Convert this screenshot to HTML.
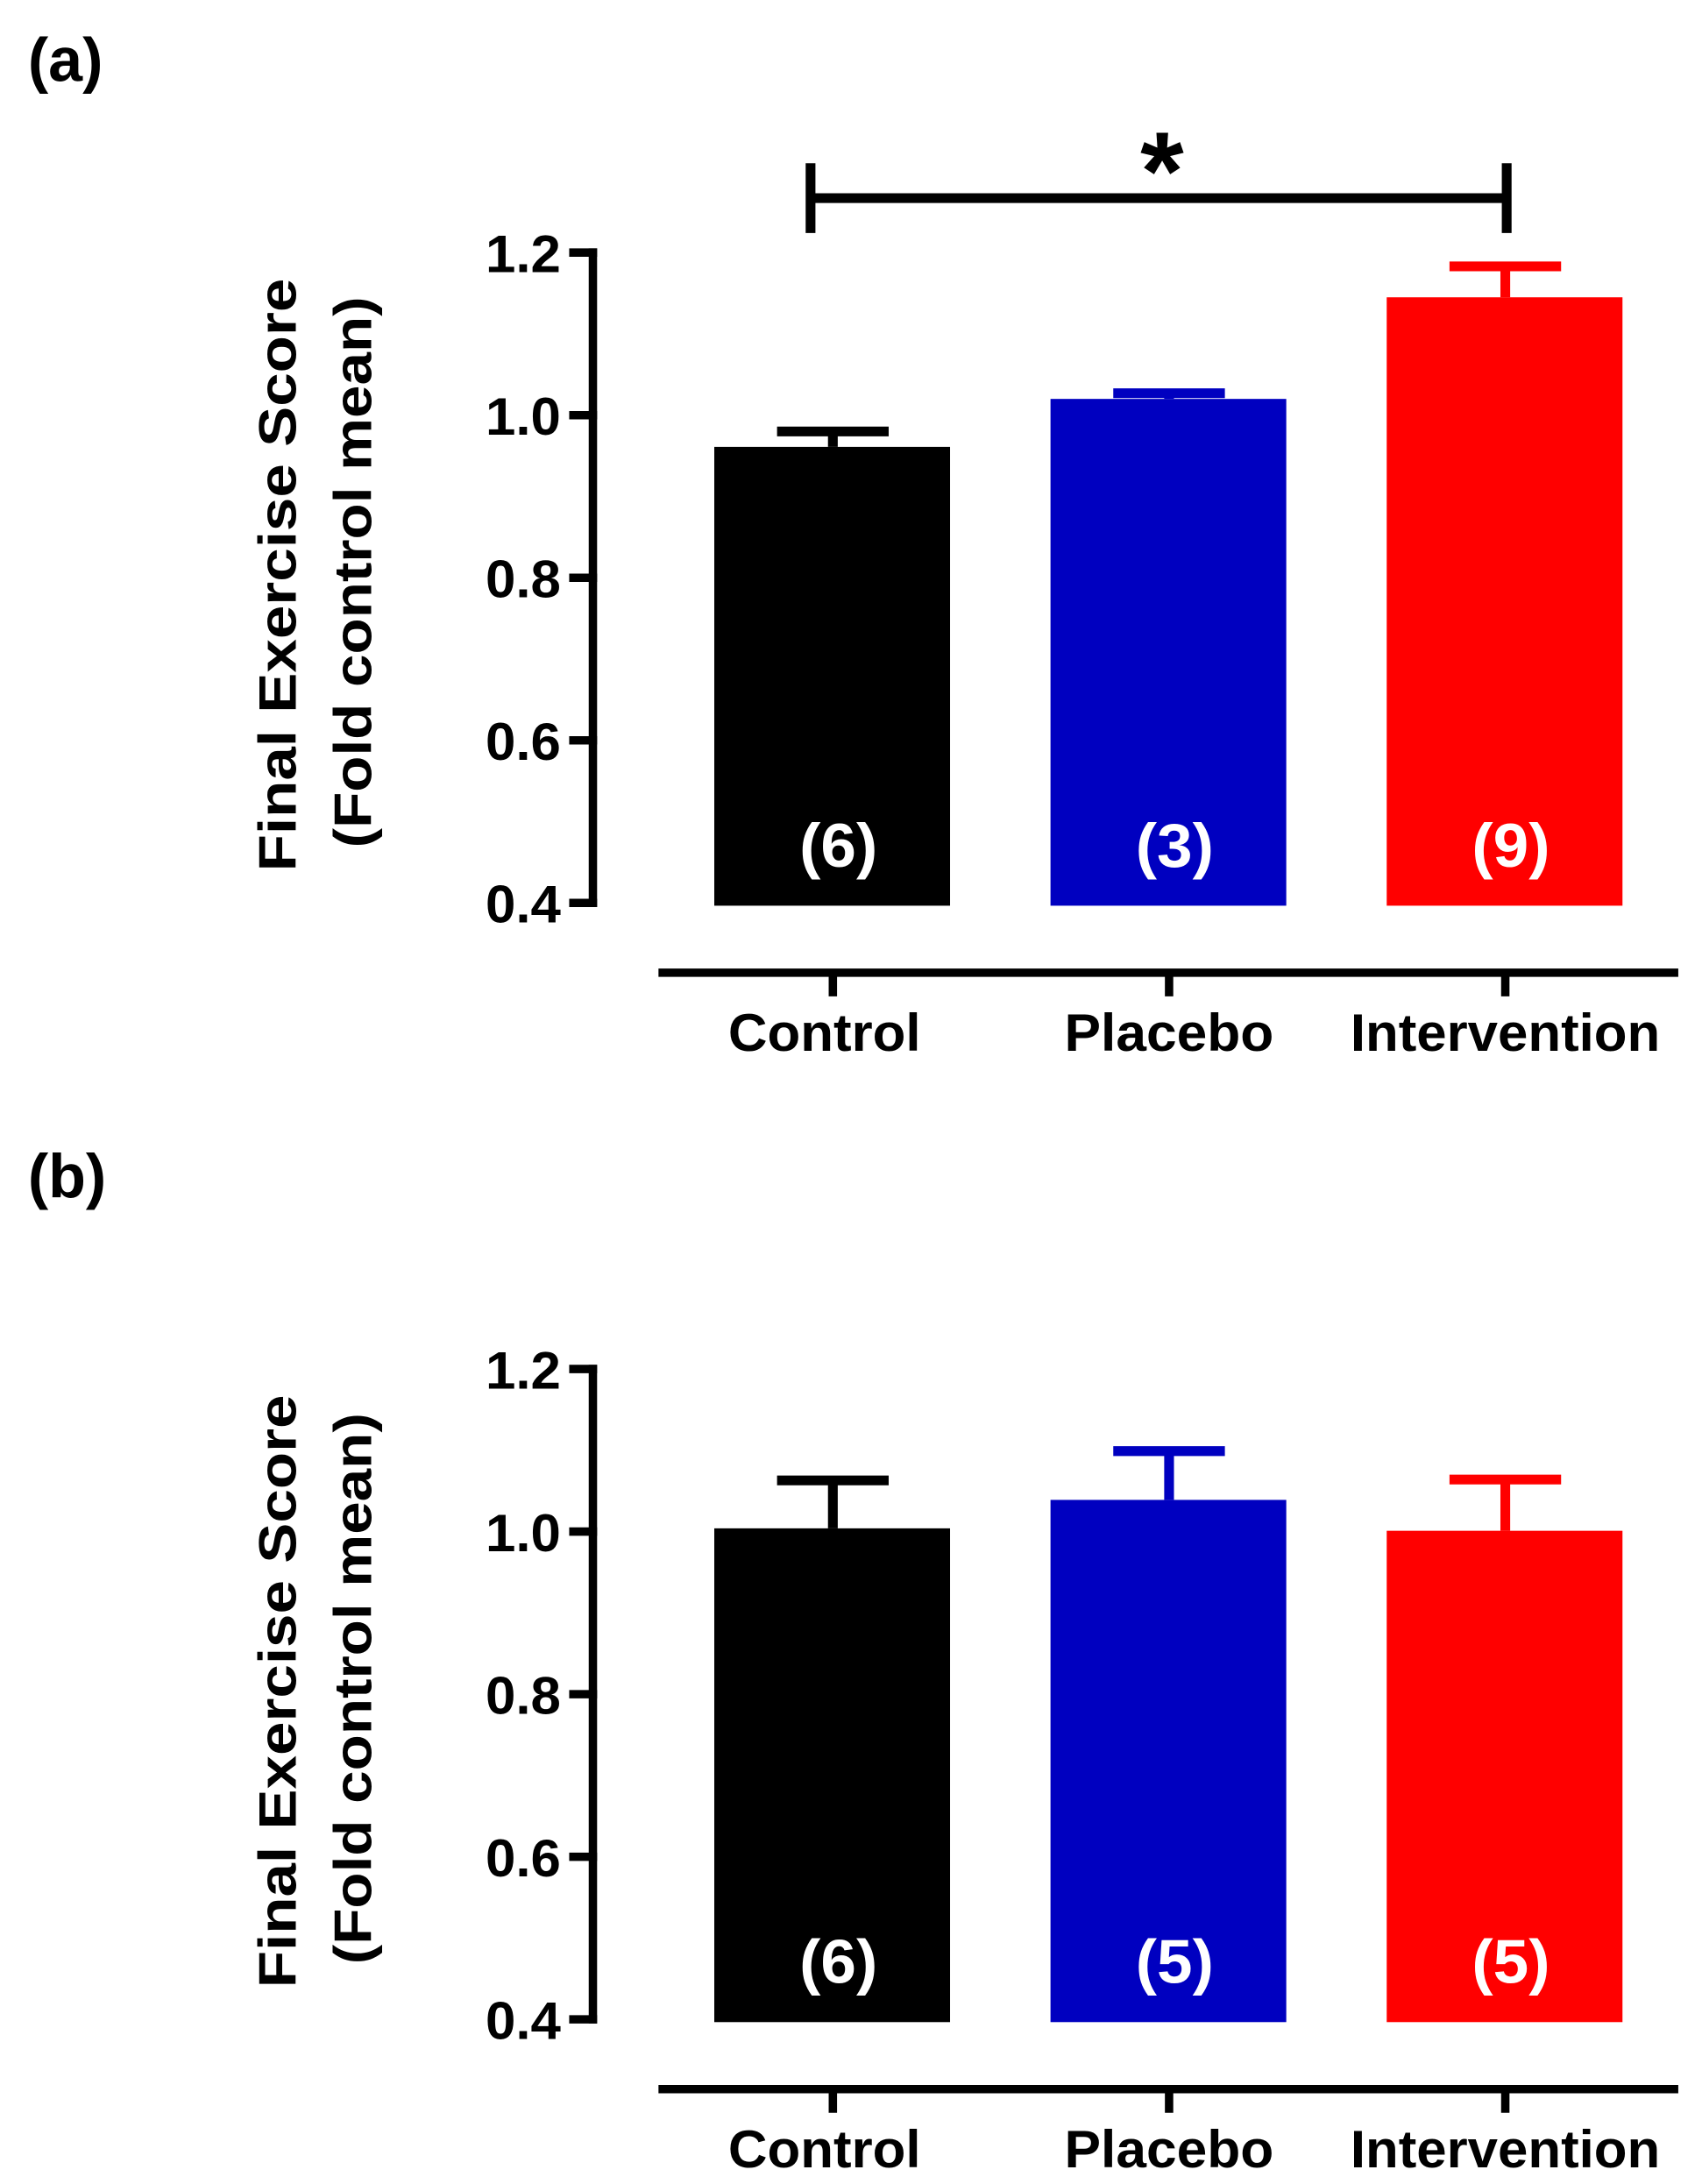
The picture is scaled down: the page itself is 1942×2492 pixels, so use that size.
<!DOCTYPE html>
<html><head><meta charset="utf-8"><style>
html,body{margin:0;padding:0;background:#fff}
svg{display:block}
text{font-family:"Liberation Sans",Arial,sans-serif;font-weight:bold}
</style></head><body>
<svg id="chart" width="1942" height="2492" viewBox="0 0 1220 1565" preserveAspectRatio="none" xmlns="http://www.w3.org/2000/svg"></svg>
<script>
const categories = ["Control","Placebo","Intervention"];
const colors = ["#000000","#0000c0","#ff0000"];
const meansA = [0.961, 1.020, 1.145];
const errA = [0.019, 0.007, 0.038];
const nA = ["(6)","(3)","(9)"];
const meansB = [1.004, 1.039, 1.001];
const errB = [0.059, 0.060, 0.063];
const nB = ["(6)","(5)","(5)"];
const yTicks = [0.4,0.6,0.8,1.0,1.2];
const yTickLabels = ["0.4","0.6","0.8","1.0","1.2"];

const NS="http://www.w3.org/2000/svg";
const svg=document.getElementById('chart');
function mk(tag,attrs,parent,txt){const e=document.createElementNS(NS,tag);for(const k in attrs)e.setAttribute(k,attrs[k]);if(txt!==undefined)e.textContent=txt;(parent||svg).appendChild(e);return e;}

function panel(off, letter, means, errs, ns, sig){
  const g=mk('g',{});
  
  
  const y=v=>off+647-(v-0.4)/0.8*466;
  const xc=i=>597+i*241;
  const lab=mk('text',{x:20,y:off+58,'font-size':44},g,'('+letter+')');
  
  
  means.forEach((m,i)=>{
    const top=y(m), bot=y(0.4)+2;
    const b=mk('rect',{x:xc(i)-85,y:top,width:169,height:bot-top,fill:colors[i]},g);
    
    
    const ce=y(m+errs[i]);
    const eb=mk('path',{d:`M${xc(i)} ${top} V${ce} M${xc(i)-40} ${ce} H${xc(i)+40}`,stroke:colors[i],'stroke-width':7,fill:'none'},g);
    
    
    const t=mk('text',{x:xc(i)+4,y:off+621,'font-size':44,fill:'#fff','text-anchor':'middle',textLength:56,lengthAdjust:'spacingAndGlyphs'},g,ns[i]);
    
    
  });
  const ya=mk('line',{x1:425,x2:425,y1:y(1.2)-3,y2:y(0.4)+3,stroke:'#000','stroke-width':6},g);
  
  
  yTicks.forEach((v,i)=>{
    mk('line',{x1:408,x2:428,y1:y(v),y2:y(v),stroke:'#000','stroke-width':6},g);
    const t=mk('text',{x:402,y:y(v)+14,'font-size':38,'text-anchor':'end',textLength:54,lengthAdjust:'spacingAndGlyphs'},g,yTickLabels[i]);
    
    
  });
  const xa=mk('line',{x1:472,x2:1203,y1:off+697,y2:off+697,stroke:'#000','stroke-width':6},g);
  
  
  categories.forEach((c,i)=>{
    mk('line',{x1:xc(i),x2:xc(i),y1:off+697,y2:off+714,stroke:'#000','stroke-width':6},g);
    const w=[138,150,222][i];
    const t=mk('text',{x:[591,838,1079][i],y:off+753,'font-size':38,'text-anchor':'middle',textLength:w,lengthAdjust:'spacingAndGlyphs'},g,c);
    
    
  });
  const yt=mk('text',{transform:`translate(212 ${off+412}) rotate(-90)`,'font-size':38,'text-anchor':'middle',textLength:425,lengthAdjust:'spacingAndGlyphs'},g,'Final  Exercise Score');
  
  
  const yt2=mk('text',{transform:`translate(266 ${off+410}) rotate(-90)`,'font-size':38,'text-anchor':'middle',textLength:395,lengthAdjust:'spacingAndGlyphs'},g,'(Fold control mean)');
  
  
  if(sig){
    const s=mk('path',{d:`M581 ${off+117} V${off+167} M581 ${off+142} H1080 M1080 ${off+117} V${off+167}`,stroke:'#000','stroke-width':7,fill:'none'},g);
    
    
    const st=mk('text',{x:833,y:off+150,'font-size':80,'text-anchor':'middle'},g,'*');
    
    
  }
}
panel(0,'a',meansA,errA,nA,true);
panel(800,'b',meansB,errB,nB,false);
</script>
</body></html>
